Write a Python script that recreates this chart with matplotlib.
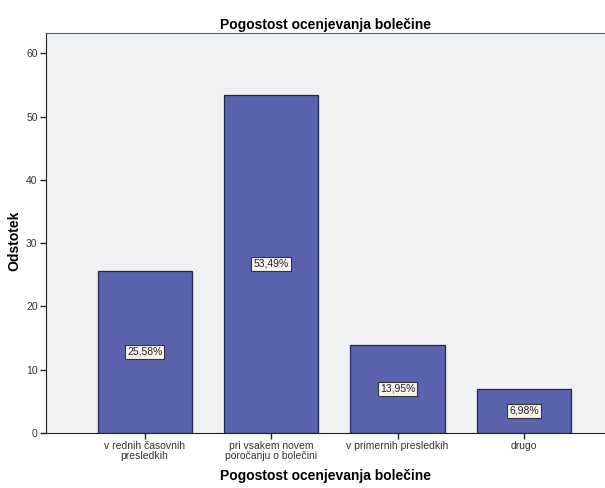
import matplotlib.pyplot as plt
import numpy as np

plt.rcParams['font.family'] = ['Liberation Sans', 'DejaVu Sans']

kategorije = ["v rednih časovnih\npresledkih",
              "pri vsakem novem\nporočanju o bolečini",
              "v primernih presledkih",
              "drugo"]
odstotki = [25.58, 53.49, 13.95, 6.98]
yticks = [0, 10, 20, 30, 40, 50, 60]

fig = plt.figure(figsize=(6.05, 4.88), dpi=100)
fig.set_facecolor('white')
ax = fig.add_axes([0.076, 0.113, 0.924, 0.819])
ax.set_facecolor('#F0F1F2')

x = np.arange(len(odstotki))
bars = ax.bar(x, odstotki, width=0.745, color='#5B63AD', edgecolor='#1E2550', linewidth=0.9)

# oznake vrednosti na sredini stolpcev
for xi, v in zip(x, odstotki):
    ax.text(xi, v / 2, f"{v:.2f}%".replace('.', ','), ha='center', va='center',
            fontsize=7.5, color='#222222',
            bbox=dict(boxstyle='square,pad=0.2', facecolor='#F7F3EF',
                      edgecolor='#333333', linewidth=0.8))

ax.set_xlim(-0.78, 3.64)
ax.set_ylim(0, 63.2)
ax.set_xticks(x)
ax.set_xticklabels(kategorije, fontsize=7.5, color='#333333', linespacing=0.95)
ax.set_yticks(yticks)
ax.set_yticklabels([str(t) for t in yticks], fontsize=7.5, color='#333333')
ax.tick_params(axis='both', direction='out', length=4, width=1, color='#222222', pad=2)

ax.spines['right'].set_visible(False)
ax.spines['top'].set_color('#4A6478')
ax.spines['left'].set_color('#222222')
ax.spines['bottom'].set_color('#222222')

ax.set_title("Pogostost ocenjevanja bolečine", fontsize=10, fontweight='bold', pad=3)
ax.set_xlabel("Pogostost ocenjevanja bolečine", fontsize=10, fontweight='bold', labelpad=6)
ax.set_ylabel("Odstotek", fontsize=10, fontweight='bold', va='center')
ax.yaxis.set_label_coords(-0.056, 0.48)

fig.savefig('out.png', dpi=100)
